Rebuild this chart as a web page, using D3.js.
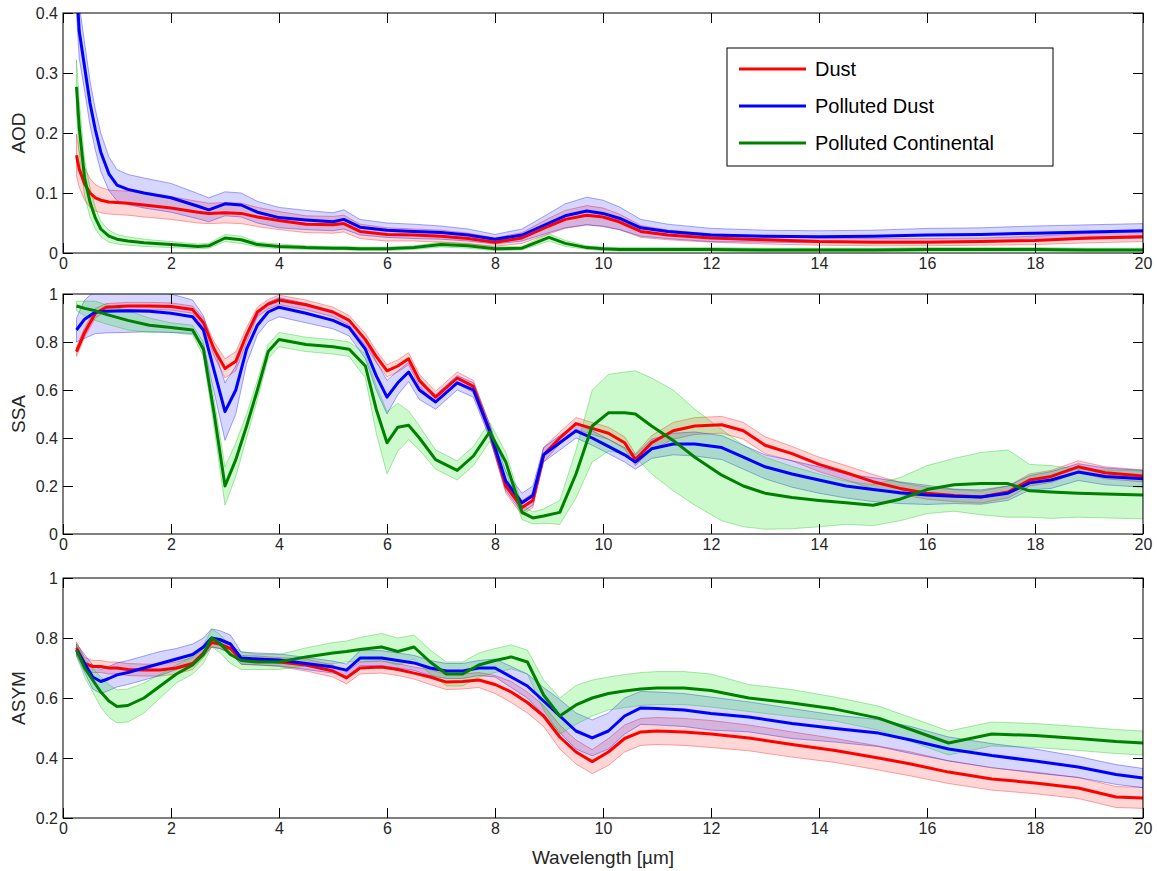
<!DOCTYPE html>
<html>
<head>
<meta charset="utf-8">
<script src="https://cdn.jsdelivr.net/npm/d3@7"></script>
<style>
  body { margin: 0; background: #fff; }
  svg text { font-family: "Liberation Sans", Arial, sans-serif; }
</style>
</head>
<body>
<script>

// ---- data ----

const seriesNames = ["Dust", "Polluted Dust", "Polluted Continental"];
const xTicks = [0, 2, 4, 6, 8, 10, 12, 14, 16, 18, 20];

// AOD panel
const wlAod = [0.25, 0.3, 0.4, 0.5, 0.6, 0.7, 0.85, 1.0, 1.2, 1.5, 2.0, 2.5, 2.7, 3.0, 3.3, 3.6, 4.0, 4.5, 5.0, 5.2, 5.5, 6.0, 6.5, 7.0, 7.5, 8.0, 8.5, 9.0, 9.3, 9.7, 10.0, 10.3, 10.7, 11.2, 12.0, 13.0, 14.0, 15.0, 16.0, 17.0, 18.0, 19.0, 20.0];
const dustAod = [0.163, 0.14, 0.115, 0.1, 0.092, 0.088, 0.085, 0.084, 0.083, 0.08, 0.075, 0.068, 0.066, 0.067, 0.066, 0.06, 0.054, 0.048, 0.047, 0.049, 0.036, 0.031, 0.03, 0.028, 0.024, 0.018, 0.025, 0.045, 0.056, 0.063, 0.06, 0.052, 0.036, 0.03, 0.025, 0.022, 0.019, 0.018, 0.018, 0.019, 0.021, 0.025, 0.027];
const dustAodErr = [0.035, 0.03, 0.027, 0.024, 0.022, 0.021, 0.02, 0.02, 0.02, 0.02, 0.019, 0.018, 0.017, 0.017, 0.017, 0.016, 0.015, 0.014, 0.014, 0.014, 0.012, 0.011, 0.01, 0.01, 0.009, 0.007, 0.009, 0.013, 0.015, 0.016, 0.015, 0.013, 0.01, 0.008, 0.007, 0.007, 0.006, 0.006, 0.006, 0.006, 0.007, 0.008, 0.008];
const pdustAod = [0.45, 0.37, 0.31, 0.25, 0.205, 0.168, 0.132, 0.113, 0.106, 0.1, 0.092, 0.078, 0.072, 0.082, 0.08, 0.068, 0.059, 0.055, 0.052, 0.056, 0.043, 0.038, 0.036, 0.034, 0.03, 0.023, 0.03, 0.05, 0.062, 0.07, 0.066, 0.058, 0.042, 0.036, 0.03, 0.028, 0.027, 0.028, 0.03, 0.031, 0.033, 0.035, 0.037];
const pdustAodErr = [0.05, 0.045, 0.04, 0.037, 0.034, 0.032, 0.028, 0.026, 0.025, 0.025, 0.024, 0.021, 0.02, 0.02, 0.02, 0.018, 0.017, 0.016, 0.015, 0.016, 0.013, 0.012, 0.012, 0.011, 0.01, 0.008, 0.01, 0.016, 0.02, 0.023, 0.022, 0.019, 0.014, 0.012, 0.011, 0.01, 0.01, 0.01, 0.011, 0.011, 0.012, 0.012, 0.012];
const contAod = [0.277, 0.21, 0.125, 0.085, 0.058, 0.04, 0.028, 0.023, 0.02, 0.017, 0.014, 0.011, 0.012, 0.025, 0.022, 0.014, 0.011, 0.009, 0.008, 0.008, 0.007, 0.007, 0.009, 0.014, 0.012, 0.007, 0.008, 0.026, 0.016, 0.009, 0.007, 0.006, 0.006, 0.006, 0.006, 0.005, 0.005, 0.005, 0.006, 0.006, 0.006, 0.005, 0.005];
const contAodErr = [0.045, 0.045, 0.03, 0.025, 0.018, 0.013, 0.01, 0.008, 0.007, 0.006, 0.005, 0.004, 0.004, 0.006, 0.006, 0.004, 0.004, 0.003, 0.003, 0.003, 0.003, 0.003, 0.003, 0.004, 0.004, 0.003, 0.003, 0.006, 0.005, 0.003, 0.003, 0.003, 0.003, 0.003, 0.003, 0.003, 0.003, 0.003, 0.003, 0.003, 0.003, 0.003, 0.003];
const yTicksAod = [0, 0.1, 0.2, 0.3, 0.4];

// SSA panel
const wlSsa = [0.25, 0.4, 0.6, 0.8, 1.2, 1.6, 2.0, 2.4, 2.6, 2.8, 3.0, 3.2, 3.4, 3.6, 3.8, 4.0, 4.5, 5.0, 5.3, 5.6, 5.8, 6.0, 6.2, 6.4, 6.6, 6.9, 7.3, 7.6, 7.9, 8.2, 8.5, 8.7, 8.9, 9.2, 9.5, 9.8, 10.1, 10.4, 10.6, 10.9, 11.3, 11.7, 12.2, 12.6, 13.0, 13.5, 14.0, 14.5, 15.0, 15.5, 16.0, 16.5, 17.0, 17.5, 17.9, 18.3, 18.8, 19.3, 20.0];
const dustSsa = [0.76, 0.84, 0.92, 0.945, 0.95, 0.95, 0.948, 0.935, 0.88, 0.77, 0.69, 0.72, 0.83, 0.925, 0.958, 0.975, 0.955, 0.925, 0.89, 0.81, 0.74, 0.68, 0.7, 0.73, 0.64, 0.57, 0.65, 0.615, 0.43, 0.2, 0.11, 0.14, 0.33, 0.4, 0.46, 0.44, 0.42, 0.38, 0.31, 0.38, 0.43, 0.45, 0.455, 0.43, 0.37, 0.335, 0.29, 0.255, 0.218, 0.19, 0.17, 0.16, 0.154, 0.175, 0.225, 0.24, 0.28, 0.255, 0.242];
const dustSsaErr = [0.02, 0.02, 0.02, 0.015, 0.015, 0.015, 0.015, 0.015, 0.02, 0.03, 0.04, 0.04, 0.03, 0.02, 0.02, 0.02, 0.02, 0.02, 0.02, 0.025, 0.025, 0.025, 0.025, 0.025, 0.025, 0.025, 0.025, 0.025, 0.025, 0.03, 0.03, 0.03, 0.03, 0.025, 0.025, 0.025, 0.025, 0.025, 0.025, 0.03, 0.035, 0.035, 0.035, 0.035, 0.035, 0.03, 0.03, 0.03, 0.03, 0.025, 0.025, 0.025, 0.025, 0.025, 0.025, 0.025, 0.025, 0.025, 0.025];
const pdustSsa = [0.85, 0.895, 0.925, 0.928, 0.93, 0.928, 0.92, 0.905, 0.85, 0.68, 0.51, 0.6, 0.77, 0.87, 0.925, 0.945, 0.92, 0.89, 0.86, 0.77, 0.66, 0.57, 0.63, 0.675, 0.6, 0.55, 0.63, 0.6, 0.43, 0.22, 0.13, 0.16, 0.33, 0.38, 0.43, 0.4, 0.365, 0.33, 0.3, 0.355, 0.375, 0.375, 0.36, 0.32, 0.28, 0.25, 0.225, 0.2, 0.185, 0.172, 0.163, 0.157, 0.154, 0.17, 0.213, 0.225, 0.258, 0.24, 0.23];
const pdustSsaErr = [0.05, 0.08, 0.09, 0.09, 0.09, 0.085, 0.08, 0.07, 0.06, 0.09, 0.12, 0.1, 0.06, 0.04, 0.04, 0.04, 0.04, 0.035, 0.035, 0.04, 0.06, 0.07, 0.05, 0.04, 0.04, 0.03, 0.03, 0.03, 0.03, 0.04, 0.04, 0.04, 0.03, 0.03, 0.03, 0.03, 0.03, 0.03, 0.03, 0.04, 0.045, 0.05, 0.05, 0.05, 0.05, 0.055, 0.055, 0.05, 0.05, 0.045, 0.04, 0.03, 0.03, 0.03, 0.03, 0.035, 0.035, 0.035, 0.035];
const contSsa = [0.95, 0.94, 0.93, 0.915, 0.89, 0.87, 0.86, 0.85, 0.77, 0.5, 0.2, 0.31, 0.45, 0.6, 0.76, 0.81, 0.79, 0.78, 0.77, 0.7, 0.52, 0.38, 0.445, 0.453, 0.4, 0.31, 0.265, 0.325, 0.425, 0.3, 0.09, 0.067, 0.075, 0.09, 0.25, 0.45, 0.505, 0.505, 0.5, 0.45, 0.39, 0.32, 0.245, 0.2, 0.17, 0.152, 0.14, 0.13, 0.12, 0.145, 0.185, 0.205, 0.21, 0.21, 0.18, 0.175, 0.17, 0.167, 0.163];
const contSsaErr = [0.02, 0.03, 0.04, 0.04, 0.04, 0.03, 0.02, 0.02, 0.03, 0.06, 0.08, 0.07, 0.05, 0.04, 0.03, 0.03, 0.03, 0.03, 0.03, 0.05, 0.1, 0.13, 0.1, 0.06, 0.05, 0.04, 0.04, 0.04, 0.04, 0.04, 0.03, 0.025, 0.03, 0.05, 0.1, 0.15, 0.16, 0.17, 0.18, 0.2, 0.21, 0.2, 0.19, 0.17, 0.15, 0.13, 0.11, 0.09, 0.085, 0.09, 0.1, 0.11, 0.13, 0.14, 0.11, 0.11, 0.1, 0.1, 0.1];
const yTicksSsa = [0, 0.2, 0.4, 0.6, 0.8, 1];

// ASYM panel
const wlAsym = [0.25, 0.4, 0.55, 0.7, 0.85, 1.0, 1.2, 1.5, 1.8, 2.1, 2.4, 2.6, 2.75, 2.9, 3.1, 3.3, 3.6, 4.0, 4.5, 5.0, 5.25, 5.5, 5.9, 6.2, 6.5, 6.8, 7.1, 7.4, 7.7, 8.0, 8.3, 8.6, 8.9, 9.2, 9.5, 9.8, 10.1, 10.4, 10.7, 11.0, 11.5, 12.0, 12.7, 13.5, 14.3, 15.1, 15.7, 16.4, 17.2, 18.0, 18.8, 19.5, 20.0];
const dustAsym = [0.767, 0.715, 0.705, 0.705, 0.7, 0.7, 0.695, 0.693, 0.693, 0.7, 0.715, 0.75, 0.785, 0.78, 0.765, 0.727, 0.725, 0.72, 0.71, 0.69, 0.667, 0.7, 0.703, 0.695, 0.683, 0.67, 0.653, 0.655, 0.66, 0.645, 0.62, 0.585, 0.54, 0.47, 0.42, 0.388, 0.42, 0.465, 0.487, 0.49, 0.487, 0.48, 0.467, 0.445, 0.425, 0.4, 0.38, 0.353, 0.33, 0.317, 0.3, 0.27, 0.267];
const dustAsymErr = [0.02, 0.02, 0.02, 0.02, 0.02, 0.02, 0.02, 0.02, 0.02, 0.02, 0.02, 0.015, 0.015, 0.015, 0.015, 0.015, 0.015, 0.015, 0.02, 0.02, 0.02, 0.02, 0.02, 0.02, 0.02, 0.025, 0.025, 0.025, 0.025, 0.03, 0.035, 0.035, 0.035, 0.04, 0.04, 0.04, 0.045, 0.045, 0.045, 0.045, 0.045, 0.045, 0.043, 0.042, 0.04, 0.04, 0.04, 0.038, 0.037, 0.036, 0.035, 0.035, 0.035];
const pdustAsym = [0.76, 0.715, 0.67, 0.655, 0.665, 0.677, 0.685, 0.7, 0.715, 0.73, 0.745, 0.77, 0.8, 0.795, 0.78, 0.733, 0.73, 0.727, 0.715, 0.703, 0.693, 0.733, 0.733, 0.725, 0.717, 0.7, 0.69, 0.69, 0.7, 0.7, 0.67, 0.64, 0.59, 0.54, 0.49, 0.467, 0.49, 0.54, 0.567, 0.565, 0.56, 0.548, 0.537, 0.515, 0.498, 0.483, 0.46, 0.43, 0.408, 0.39, 0.37, 0.345, 0.333];
const pdustAsymErr = [0.02, 0.03, 0.04, 0.04, 0.04, 0.04, 0.04, 0.04, 0.04, 0.035, 0.035, 0.03, 0.03, 0.03, 0.03, 0.02, 0.02, 0.02, 0.02, 0.02, 0.02, 0.025, 0.025, 0.025, 0.025, 0.025, 0.025, 0.025, 0.025, 0.03, 0.035, 0.04, 0.045, 0.055, 0.06, 0.06, 0.06, 0.06, 0.055, 0.055, 0.055, 0.055, 0.05, 0.05, 0.045, 0.045, 0.045, 0.04, 0.04, 0.04, 0.035, 0.033, 0.032];
const contAsym = [0.76, 0.7, 0.66, 0.62, 0.59, 0.572, 0.575, 0.6, 0.64, 0.68, 0.71, 0.745, 0.8, 0.783, 0.745, 0.725, 0.72, 0.72, 0.737, 0.75, 0.755, 0.762, 0.77, 0.755, 0.77, 0.72, 0.68, 0.68, 0.71, 0.725, 0.737, 0.72, 0.61, 0.54, 0.577, 0.6, 0.615, 0.623, 0.63, 0.633, 0.633, 0.625, 0.6, 0.583, 0.563, 0.533, 0.495, 0.45, 0.48, 0.475, 0.465, 0.455, 0.45];
const contAsymErr = [0.02, 0.03, 0.04, 0.05, 0.055, 0.055, 0.055, 0.05, 0.04, 0.03, 0.03, 0.03, 0.03, 0.03, 0.03, 0.03, 0.025, 0.025, 0.03, 0.035, 0.035, 0.04, 0.045, 0.045, 0.04, 0.04, 0.04, 0.04, 0.04, 0.04, 0.04, 0.04, 0.05, 0.06, 0.065, 0.06, 0.055, 0.055, 0.055, 0.055, 0.055, 0.055, 0.045, 0.045, 0.04, 0.04, 0.04, 0.04, 0.04, 0.04, 0.04, 0.04, 0.04];
const yTicksAsym = [0.2, 0.4, 0.6, 0.8, 1];

// ---- layout ----
const W = 1157, H = 871;
const left = 63, right = 1143;
const panelH = 240;
const tickLen = 10;

const lineColors = ["#ff0000", "#0000ff", "#008000"];
const bandFills = ["rgba(255,0,0,0.16)", "rgba(0,0,255,0.16)", "rgba(0,230,0,0.2)"];
const bandEdges = ["rgba(255,0,0,0.35)", "rgba(0,0,255,0.35)", "rgba(0,170,0,0.3)"];

const panels = [
    { top: 13, label: "AOD", domain: [0, 0.4], yTicks: yTicksAod, wl: wlAod,
      means: [dustAod, pdustAod, contAod], errs: [dustAodErr, pdustAodErr, contAodErr] },
    { top: 294, label: "SSA", domain: [0, 1], yTicks: yTicksSsa, wl: wlSsa,
      means: [dustSsa, pdustSsa, contSsa], errs: [dustSsaErr, pdustSsaErr, contSsaErr] },
    { top: 578, label: "ASYM", domain: [0.2, 1], yTicks: yTicksAsym, wl: wlAsym,
      means: [dustAsym, pdustAsym, contAsym], errs: [dustAsymErr, pdustAsymErr, contAsymErr] }
];

const svg = d3.select("body").append("svg")
    .attr("width", W)
    .attr("height", H);

const x = d3.scaleLinear().domain([0, 20]).range([left, right]);

panels.forEach(function (p, pi) {
    let y = d3.scaleLinear().domain(p.domain).range([p.top + panelH, p.top]);

    svg.append("clipPath").attr("id", "clip" + pi)
        .append("rect")
        .attr("x", left).attr("y", p.top)
        .attr("width", right - left).attr("height", panelH);

    let g = svg.append("g").attr("clip-path", "url(#clip" + pi + ")");

    // bands first, then the mean lines on top
    p.means.forEach(function (m, si) {
        let err = p.errs[si];
        let area = d3.area()
            .x((d, i) => x(p.wl[i]))
            .y0((d, i) => y(d - err[i]))
            .y1((d, i) => y(d + err[i]));
        g.append("path")
            .datum(m)
            .attr("d", area)
            .attr("fill", bandFills[si])
            .attr("stroke", bandEdges[si])
            .attr("stroke-width", 1);
    });

    p.means.forEach(function (m, si) {
        let line = d3.line()
            .x((d, i) => x(p.wl[i]))
            .y(d => y(d));
        g.append("path")
            .datum(m)
            .attr("d", line)
            .attr("fill", "none")
            .attr("stroke", lineColors[si])
            .attr("stroke-width", 3)
            .attr("stroke-linejoin", "round");
    });

    // axes, matlab style: ticks pointing inward on all four sides
    let bottom = svg.append("g")
        .attr("transform", "translate(0," + (p.top + panelH) + ")")
        .call(d3.axisBottom(x).tickValues(xTicks).tickSizeInner(-tickLen).tickSizeOuter(0).tickPadding(5)
            .tickFormat(d => String(d)));
    let topAx = svg.append("g")
        .attr("transform", "translate(0," + p.top + ")")
        .call(d3.axisTop(x).tickValues(xTicks).tickSizeInner(-tickLen).tickSizeOuter(0).tickFormat(""));
    let leftAx = svg.append("g")
        .attr("transform", "translate(" + left + ",0)")
        .call(d3.axisLeft(y).tickValues(p.yTicks).tickSizeInner(-tickLen).tickSizeOuter(0).tickPadding(5)
            .tickFormat(d => String(d)));
    let rightAx = svg.append("g")
        .attr("transform", "translate(" + right + ",0)")
        .call(d3.axisRight(y).tickValues(p.yTicks).tickSizeInner(-tickLen).tickSizeOuter(0).tickFormat(""));

    [bottom, topAx, leftAx, rightAx].forEach(function (a) {
        a.select(".domain").remove();
        a.selectAll(".tick line").attr("stroke", "#000");
        a.selectAll("text").attr("fill", "#262626").style("font-size", "16px");
    });

    // frame
    svg.append("rect")
        .attr("x", left).attr("y", p.top)
        .attr("width", right - left).attr("height", panelH)
        .attr("fill", "none")
        .attr("stroke", "#000")
        .attr("stroke-width", 1);

    // y label
    svg.append("text")
        .attr("transform", "translate(25," + (p.top + panelH / 2) + ") rotate(-90)")
        .attr("text-anchor", "middle")
        .attr("fill", "#262626")
        .style("font-size", "19px")
        .text(p.label);
});

// x label
svg.append("text")
    .attr("x", (left + right) / 2)
    .attr("y", 864)
    .attr("text-anchor", "middle")
    .attr("fill", "#262626")
    .style("font-size", "19px")
    .text("Wavelength [\u00b5m]");

// legend
let legend = svg.append("g");
legend.append("rect")
    .attr("x", 727).attr("y", 48)
    .attr("width", 326).attr("height", 118)
    .attr("fill", "#fff")
    .attr("stroke", "#000");
seriesNames.forEach(function (name, i) {
    let ly = 69 + i * 37;
    legend.append("line")
        .attr("x1", 739).attr("x2", 806)
        .attr("y1", ly).attr("y2", ly)
        .attr("stroke", lineColors[i])
        .attr("stroke-width", 3);
    legend.append("text")
        .attr("x", 815).attr("y", ly)
        .attr("dy", "0.35em")
        .attr("fill", "#000")
        .style("font-size", "20px")
        .text(name);
});

</script>
</body>
</html>
